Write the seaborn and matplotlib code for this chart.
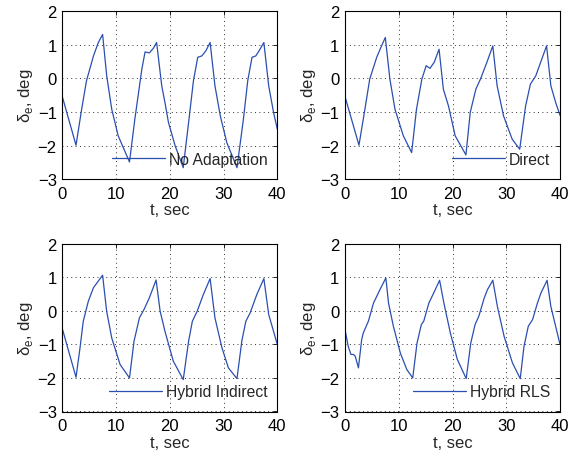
import numpy as np
import pandas as pd
import seaborn as sns
import matplotlib
matplotlib.use('Agg')
import matplotlib.pyplot as plt

# values (t in sec, delta_e in deg)
t_noadapt = [0.0, 2.55, 3.6, 4.5, 5.8, 6.7, 7.5, 8.26, 9.2, 10.4, 12.5,
             13.5, 14.8, 15.4, 16.2, 16.95, 17.55, 18.5, 19.1, 19.75, 21.0, 22.5,
             23.5, 24.4, 25.2, 25.95, 26.7, 27.5, 28.4, 29.4, 30.6, 32.5,
             33.7, 34.5, 35.3, 36.0, 36.6, 37.5, 38.4, 39.3, 40.0]
v_noadapt = [-0.54, -1.99, -0.92, -0.07, 0.67, 1.07, 1.31, 0.08, -0.92, -1.71, -2.49,
             -1.21, 0.28, 0.79, 0.76, 0.9, 1.07, -0.22, -0.72, -1.31, -2.01, -2.66,
             -1.31, -0.07, 0.63, 0.67, 0.82, 1.07, -0.22, -1.12, -1.91, -2.66,
             -1.21, -0.07, 0.63, 0.67, 0.82, 1.07, -0.22, -1.01, -1.51]

t_direct = [0.0, 2.6, 3.7, 4.6, 5.9, 6.8, 7.5, 8.35, 9.3, 10.85, 12.4,
            13.3, 14.3, 15.1, 15.8, 16.6, 17.5, 18.3, 19.25, 20.5, 22.5,
            23.3, 24.35, 25.2, 26.4, 27.5, 28.3, 29.5, 31.1, 32.5,
            33.6, 34.5, 35.5, 36.4, 37.5, 38.3, 39.2, 40.0]
v_direct = [-0.54, -1.99, -0.92, -0.02, 0.63, 0.97, 1.22, -0.02, -0.92, -1.71, -2.21,
            -0.92, -0.02, 0.38, 0.3, 0.48, 0.87, -0.32, -0.82, -1.71, -2.28,
            -1.01, -0.32, -0.02, 0.48, 0.97, -0.22, -1.12, -1.81, -2.11,
            -0.82, -0.17, 0.08, 0.48, 0.97, -0.22, -0.72, -1.1]

t_indirect = [0.0, 2.55, 3.3, 3.9, 4.85, 5.8, 7.5, 8.25, 9.2, 10.75, 12.5,
              13.35, 14.35, 15.2, 16.2, 17.45, 18.2, 19.1, 20.65, 22.5,
              23.5, 24.2, 25.1, 26.25, 27.5, 28.4, 29.7, 30.9, 32.5,
              33.4, 34.15, 34.95, 36.2, 37.5, 38.4, 40.0]
v_indirect = [-0.53, -1.98, -1.1, -0.31, 0.29, 0.69, 1.06, -0.01, -0.81, -1.6, -2.0,
              -0.9, -0.21, 0.04, 0.39, 0.92, -0.01, -0.61, -1.5, -2.05,
              -0.9, -0.31, -0.01, 0.49, 0.96, -0.21, -1.1, -1.7, -2.02,
              -0.9, -0.31, -0.06, 0.49, 0.96, -0.11, -1.0]

t_rls = [0.0, 0.6, 1.1, 1.55, 1.9, 2.5, 3.1, 3.4, 4.35, 5.3, 6.5, 7.6,
         8.1, 9.0, 10.3, 11.5, 12.6, 13.4, 14.2, 14.65, 15.6, 16.5, 17.6,
         18.4, 19.6, 20.9, 22.55, 23.4, 24.2, 24.9, 25.9, 26.5, 27.5,
         28.35, 29.6, 31.15, 32.6, 33.3, 34.1, 34.9, 35.8, 36.45, 37.6, 38.3, 40.0]
v_rls = [-0.56, -1.06, -1.3, -1.3, -1.35, -1.7, -0.86, -0.66, -0.31, 0.23, 0.63, 0.98,
         0.23, -0.46, -1.26, -1.75, -2.0, -0.96, -0.41, -0.31, 0.23, 0.53, 0.91,
         0.23, -0.66, -1.45, -2.02, -0.96, -0.41, -0.16, 0.38, 0.63, 0.91,
         0.13, -0.76, -1.55, -2.02, -1.06, -0.46, -0.26, 0.23, 0.53, 0.91, 0.13, -1.0]

panels = [
    ('No Adaptation', t_noadapt, v_noadapt),
    ('Direct', t_direct, v_direct),
    ('Hybrid Indirect', t_indirect, v_indirect),
    ('Hybrid RLS', t_rls, v_rls),
]

sns.set_style('white')
plt.rcParams['font.family'] = ['Liberation Sans', 'DejaVu Sans']
plt.rcParams['mathtext.fontset'] = 'custom'
plt.rcParams['mathtext.rm'] = 'Liberation Sans'

fig = plt.figure(figsize=(5.68, 4.56), dpi=100)
W, H = 568, 456
boxes = [(62.3, 12.3), (345, 12.3), (62.3, 244.7), (345, 244.7)]
bw, bh = 215, 167.8

for (label, t, v), (x0, y0) in zip(panels, boxes):
    ax = fig.add_axes([x0 / W, 1 - (y0 + bh) / H, bw / W, bh / H])
    df = pd.DataFrame({'t': t, 'v': v})
    sns.lineplot(data=df, x='t', y='v', ax=ax, color='#2a4fb0', linewidth=0.9,
                 label=label, sort=False)
    ax.set_xlim(0, 40)
    ax.set_ylim(-3, 2)
    ax.set_xticks([0, 10, 20, 30, 40])
    ax.set_yticks([-3, -2, -1, 0, 1, 2])
    ax.set_yticklabels(['\u22123', '\u22122', '\u22121', '0', '1', '2'])
    ax.grid(True, linestyle=(0, (1, 3.5)), color='#333333', linewidth=0.7)
    ax.tick_params(direction='in', length=3, width=0.6, labelsize=12,
                   top=True, right=True, colors='black')
    ax.tick_params(axis='x', pad=5)
    ax.tick_params(axis='y', pad=4)
    for s in ax.spines.values():
        s.set_color('black')
        s.set_linewidth(0.8)
    ax.set_xlabel('t, sec', fontsize=12, labelpad=1)
    ax.set_ylabel('δ$_\\mathregular{e}$, deg', fontsize=12, labelpad=2)
    ax.legend(loc='lower right', bbox_to_anchor=(0.985, 0.035), frameon=False,
              handlelength=3.4, handletextpad=0.25, fontsize=11.3,
              borderaxespad=0.0)

fig.savefig('out.png', dpi=100)
